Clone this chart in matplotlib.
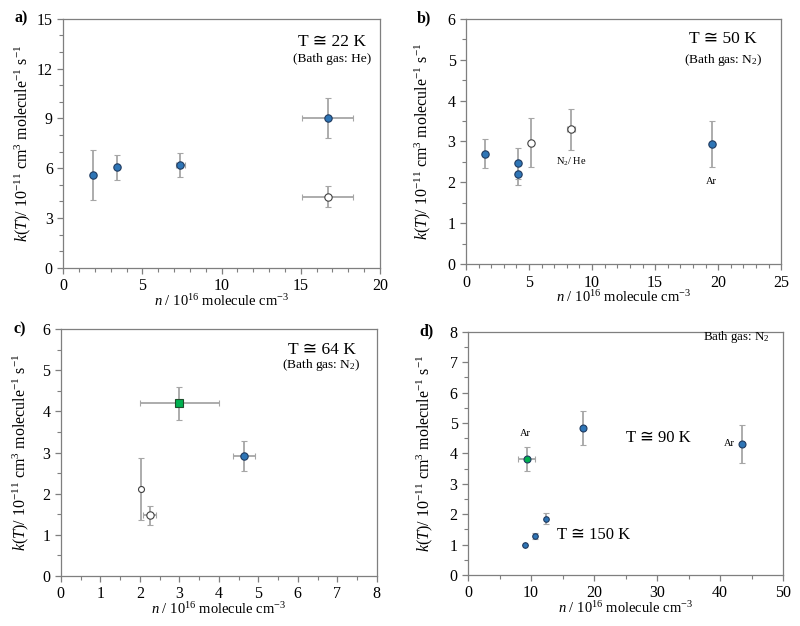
import matplotlib
matplotlib.use("Agg")
import matplotlib.pyplot as plt
from matplotlib.ticker import MultipleLocator

plt.rcParams['font.family'] = ['Liberation Serif', 'DejaVu Sans']
plt.rcParams['mathtext.fontset'] = 'custom'
plt.rcParams['mathtext.rm'] = 'Liberation Serif'
plt.rcParams['mathtext.it'] = 'Liberation Serif:italic'

# ---- Panel a (T ~ 22 K, He) ----
a_fill_x = [1.9, 3.4, 7.4, 16.7]
a_fill_y = [5.6, 6.05, 6.2, 9.05]
a_fill_xerr = [0.0, 0.0, 0.3, 1.6]
a_fill_yerr = [1.5, 0.75, 0.7, 1.2]
a_open_x = [16.7]
a_open_y = [4.3]
a_open_xerr = [1.6]
a_open_yerr = [0.65]

# ---- Panel b (T ~ 50 K, N2) ----
b_fill_x = [1.5, 4.15, 4.15, 19.55]
b_fill_y = [2.7, 2.47, 2.2, 2.93]
b_fill_xerr = [0.0, 0.0, 0.0, 0.0]
b_fill_yerr = [0.35, 0.38, 0.26, 0.56]
b_open_x = [5.15, 8.35]
b_open_y = [2.97, 3.3]
b_open_xerr = [0.0, 0.3]
b_open_yerr = [0.6, 0.5]

# ---- Panel c (T ~ 64 K, N2) ----
c_sq_x = [3.0]
c_sq_y = [4.2]
c_sq_xerr = [1.0]
c_sq_yerr = [0.4]
c_fill_x = [4.63]
c_fill_y = [2.91]
c_fill_xerr = [0.28]
c_fill_yerr = [0.36]
c_open_x = [2.03, 2.25]
c_open_y = [2.11, 1.47]
c_open_xerr = [0.0, 0.16]
c_open_yerr = [0.75, 0.23]

# ---- Panel d (T ~ 90 K and 150 K, N2) ----
d_green_x = [9.3]
d_green_y = [3.81]
d_green_xerr = [1.3]
d_green_yerr = [0.4]
d90_x = [18.2, 43.4]
d90_y = [4.83, 4.31]
d90_yerr = [0.55, 0.62]
d150_x = [9.1, 10.7, 12.3]
d150_y = [1.0, 1.29, 1.85]
d150_yerr = [0.0, 0.1, 0.18]

BLUE = '#2E75B6'
GREEN = '#00B050'
EDGE = '#1F3A5F'
ERRC = '#A6A6A6'
SPINE = '#7F7F7F'
TFAM = ['Liberation Serif', 'DejaVu Sans']

fig = plt.figure(figsize=(8, 6.26), dpi=100)
ax_a = fig.add_axes([0.079, 0.572, 0.396, 0.398])
ax_b = fig.add_axes([0.5825, 0.578, 0.394, 0.392])
ax_c = fig.add_axes([0.076, 0.080, 0.395, 0.394])
ax_d = fig.add_axes([0.585, 0.0815, 0.394, 0.3885])

ekw = dict(ecolor=ERRC, elinewidth=1.3, capsize=2, capthick=0.8, linestyle='none')

def pts(ax, x, y, xerr, yerr, face, ms=5.3, marker='o', edge=EDGE):
    ax.errorbar(x, y, xerr=xerr, yerr=yerr, fmt=marker, ms=ms, mfc=face,
                mec=edge, mew=0.8, zorder=3, **ekw)

def style(ax, xlim, ylim, xmaj, xmin, ymaj, ymin, label, ylx):
    ax.set_xlim(*xlim)
    ax.set_ylim(*ylim)
    ax.xaxis.set_major_locator(MultipleLocator(xmaj))
    ax.xaxis.set_minor_locator(MultipleLocator(xmin))
    ax.yaxis.set_major_locator(MultipleLocator(ymaj))
    ax.yaxis.set_minor_locator(MultipleLocator(ymin))
    for s in ax.spines.values():
        s.set_color(SPINE)
        s.set_linewidth(0.9)
    ax.tick_params(which='both', direction='out', color=SPINE, labelsize=11.5,
                   top=False, right=False)
    ax.tick_params(which='major', length=4, width=0.9)
    ax.tick_params(which='minor', length=3, width=0.8)
    ax.set_xlabel(r'$n$ / 10$^{16}$ molecule cm$^{-3}$', fontsize=10.5, labelpad=-1)
    ax.set_ylabel(r'$k$($T$)/ 10$^{-11}$ cm$^{3}$ molecule$^{-1}$ s$^{-1}$', fontsize=11.5)
    ax.yaxis.set_label_coords(ylx, 0.5)
    ax.text(-0.11, 1.0, label, transform=ax.transAxes, fontsize=11.5,
            fontweight='bold', ha='right', va='center')

def ttext(ax, x, y, s, fs=12.5):
    ax.text(x, y, s, fontsize=fs, ha='center', va='center', family=TFAM)

# Panel a
pts(ax_a, a_fill_x, a_fill_y, a_fill_xerr, a_fill_yerr, BLUE)
pts(ax_a, a_open_x, a_open_y, a_open_xerr, a_open_yerr, 'white', edge='#404040')
style(ax_a, (0, 20), (0, 15), 5, 1, 3, 1, 'a)', -0.096)
ttext(ax_a, 17.0, 13.6, 'T ≅ 22 K')
ax_a.text(17.0, 12.6, '(Bath gas: He)', fontsize=9.6, ha='center', va='center')

# Panel b
pts(ax_b, b_fill_x, b_fill_y, b_fill_xerr, b_fill_yerr, BLUE)
pts(ax_b, b_open_x, b_open_y, b_open_xerr, b_open_yerr, 'white', edge='#404040')
style(ax_b, (0, 25), (0, 6), 5, 1, 1, 0.5, 'b)', -0.106)
ttext(ax_b, 20.4, 5.5, 'T ≅ 50 K')
ax_b.text(20.4, 5.0, r'(Bath gas: N$_2$)', fontsize=9.6, ha='center', va='center')
ax_b.text(8.35, 2.5, r'N$_2$/ He', fontsize=7.5, ha='center', va='center')
ax_b.text(19.5, 2.03, 'Ar', fontsize=7.5, ha='center', va='center')

# Panel c
ax_c.errorbar(c_sq_x, c_sq_y, xerr=c_sq_xerr, yerr=c_sq_yerr, fmt='s', ms=5.3,
              mfc=GREEN, mec='#1E4D2B', mew=0.8, zorder=3, **ekw)
pts(ax_c, c_fill_x, c_fill_y, c_fill_xerr, c_fill_yerr, BLUE)
pts(ax_c, [c_open_x[0]], [c_open_y[0]], [c_open_xerr[0]], [c_open_yerr[0]], 'white', ms=4.3, edge='#404040')
pts(ax_c, [c_open_x[1]], [c_open_y[1]], [c_open_xerr[1]], [c_open_yerr[1]], 'white', ms=5.3, edge='#404040')
style(ax_c, (0, 8), (0, 6), 1, 0.5, 1, 0.5, 'c)', -0.093)
ttext(ax_c, 6.6, 5.5, 'T ≅ 64 K')
ax_c.text(6.6, 5.13, r'(Bath gas: N$_2$)', fontsize=9.6, ha='center', va='center')

# Panel d
pts(ax_d, d_green_x, d_green_y, d_green_xerr, d_green_yerr, GREEN, ms=5)
pts(ax_d, d90_x, d90_y, [0, 0], d90_yerr, BLUE, ms=5)
pts(ax_d, d150_x, d150_y, [0, 0, 0], d150_yerr, BLUE, ms=4)
style(ax_d, (0, 50), (0, 8), 10, 5, 1, 0.5, 'd)', -0.106)
ttext(ax_d, 30.2, 4.49, 'T ≅ 90 K', fs=12)
ttext(ax_d, 20.0, 1.31, 'T ≅ 150 K', fs=12)
ax_d.text(42.5, 7.84, r'Bath gas: N$_2$', fontsize=9.3, ha='center', va='center')
ax_d.text(9.1, 4.66, 'Ar', fontsize=7.5, ha='center', va='center')
ax_d.text(41.4, 4.32, 'Ar', fontsize=7.5, ha='center', va='center')

fig.savefig('out.png', dpi=100)
